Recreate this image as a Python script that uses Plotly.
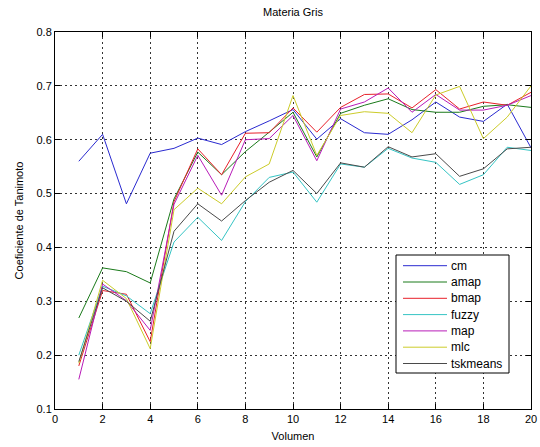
import plotly.graph_objects as go

# Volumen index (1..20)
volumen = list(range(1, 21))

# Tanimoto coefficient per method
cm = [0.560, 0.610, 0.481, 0.575, 0.584, 0.603, 0.591, 0.615, 0.635, 0.656,
      0.601, 0.639, 0.613, 0.610, 0.637, 0.670, 0.642, 0.634, 0.666, 0.585]
amap = [0.269, 0.362, 0.355, 0.334, 0.490, 0.577, 0.535, 0.578, 0.614, 0.651,
        0.568, 0.649, 0.664, 0.676, 0.656, 0.651, 0.651, 0.662, 0.665, 0.660]
bmap = [0.180, 0.320, 0.313, 0.225, 0.485, 0.583, 0.535, 0.612, 0.613, 0.659,
        0.614, 0.660, 0.684, 0.685, 0.659, 0.693, 0.657, 0.670, 0.664, 0.688]
fuzzy = [0.200, 0.328, 0.310, 0.277, 0.410, 0.456, 0.413, 0.485, 0.530, 0.540,
         0.484, 0.555, 0.549, 0.584, 0.566, 0.558, 0.517, 0.535, 0.586, 0.580]
map_ = [0.155, 0.332, 0.301, 0.246, 0.480, 0.571, 0.497, 0.600, 0.602, 0.645,
        0.561, 0.657, 0.670, 0.696, 0.651, 0.684, 0.655, 0.655, 0.664, 0.682]
mlc = [0.185, 0.339, 0.305, 0.212, 0.470, 0.510, 0.481, 0.531, 0.555, 0.682,
       0.571, 0.645, 0.652, 0.649, 0.613, 0.683, 0.699, 0.602, 0.642, 0.700]
tskmeans = [0.188, 0.325, 0.300, 0.263, 0.430, 0.481, 0.449, 0.487, 0.521, 0.543,
            0.500, 0.557, 0.549, 0.587, 0.568, 0.574, 0.532, 0.546, 0.583, 0.586]

names = ["cm", "amap", "bmap", "fuzzy", "map", "mlc", "tskmeans"]
series = [cm, amap, bmap, fuzzy, map_, mlc, tskmeans]
colors = ["#2a2ad0", "#1a7a1a", "#e8202a", "#35c4c4", "#b81cb8", "#cccc2a", "#4a4a4a"]

x_ticks = list(range(0, 21, 2))
y_ticks = [0.1, 0.2, 0.3, 0.4, 0.5, 0.6, 0.7, 0.8]

W, H = 540, 447
ML, MR, MT, MB = 55, 9, 32, 38
PW, PH = W - ML - MR, H - MT - MB


def px(x):
    """Pixel column -> paper x."""
    return (x - ML) / PW


def py(y):
    """Pixel row -> paper y."""
    return (H - MB - y) / PH


fig = go.Figure()
for name, ys, col in zip(names, series, colors):
    fig.add_trace(go.Scatter(x=volumen, y=ys, mode="lines", name=name,
                             line=dict(color=col, width=1), showlegend=False))

font = dict(family="Liberation Sans, Arial, sans-serif", size=11, color="black")

axis_common = dict(
    showline=True, linecolor="black", linewidth=1, mirror="allticks",
    ticks="inside", ticklen=5, tickcolor="black",
    showgrid=True, gridcolor="#333333", gridwidth=1, griddash="2px,3px",
    zeroline=False, tickfont=font, automargin=False,
)

# Compact boxed legend (MATLAB style) built from shapes and text
shapes = [dict(type="rect", xref="paper", yref="paper",
               x0=px(396), x1=px(509), y0=py(373), y1=py(255),
               line=dict(color="black", width=1), fillcolor="white", layer="above")]
annotations = []
for i, (name, col) in enumerate(zip(names, colors)):
    yrow = 265.7 + i * 16.3
    shapes.append(dict(type="line", xref="paper", yref="paper",
                       x0=px(403), x1=px(447), y0=py(yrow), y1=py(yrow),
                       line=dict(color=col, width=1), layer="above"))
    annotations.append(dict(text=name, xref="paper", yref="paper",
                            x=px(449), y=py(yrow), xanchor="left", yanchor="middle",
                            showarrow=False, font=dict(size=12, color="black",
                                                       family=font["family"])))

fig.update_layout(
    width=W, height=H,
    margin=dict(l=ML, r=MR, t=MT, b=MB, autoexpand=False),
    paper_bgcolor="white", plot_bgcolor="white",
    font=font,
    title=dict(text="Materia Gris", x=(ML + W - MR) / 2 / W, xanchor="center",
               y=1 - 12 / H, yanchor="middle", font=dict(size=11)),
    xaxis=dict(range=[0, 20], tickvals=x_ticks,
               title=dict(text="Volumen", standoff=8, font=dict(size=11)),
               **axis_common),
    yaxis=dict(range=[0.1, 0.8], tickvals=y_ticks,
               ticktext=[f"{v:g}" for v in y_ticks],
               title=dict(text="Coeficiente de Tanimoto", standoff=10, font=dict(size=11)),
               **axis_common),
    shapes=shapes,
    annotations=annotations,
    showlegend=False,
)

fig.write_html("out.html")
